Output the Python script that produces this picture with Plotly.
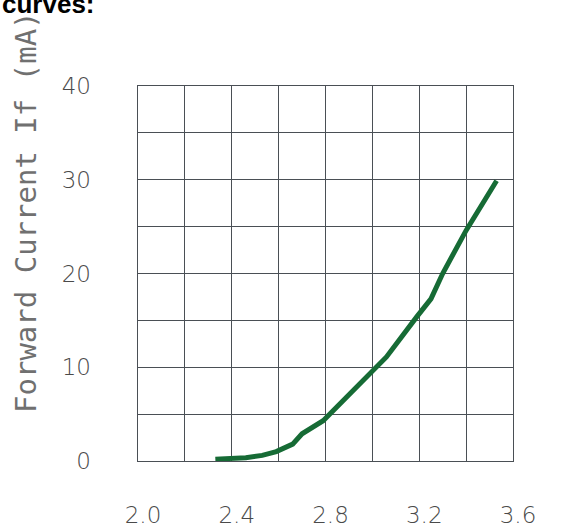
import plotly.graph_objects as go

# Forward voltage (V) vs forward current (mA)
vf = [2.33, 2.40, 2.46, 2.53, 2.59, 2.66, 2.70, 2.79, 2.89, 3.00, 3.06, 3.19, 3.25, 3.30, 3.40, 3.53]
if_ma = [0.2, 0.25, 0.35, 0.6, 1.0, 1.8, 2.9, 4.3, 6.8, 9.7, 11.1, 15.4, 17.3, 20.0, 24.6, 29.9]

x_ticks = [2.0, 2.4, 2.8, 3.2, 3.6]
x_tick_labels = ["2.0", "2.4", "2.8", "3.2", "3.6"]
y_ticks = [0, 10, 20, 30, 40]
y_tick_labels = ["0", "10", "20", "30", "40"]

y_title = "Forward Current If (mA)"
top_text = "curves:"

tick_font = dict(family="DejaVu Sans ExtraLight, DejaVu Sans", size=23, color="#4a4a4a", weight=200)

fig = go.Figure()
fig.add_trace(go.Scatter(
    x=vf, y=if_ma, mode="lines",
    line=dict(color="#166b35", width=5),
    showlegend=False, hoverinfo="skip",
))

fig.update_layout(
    width=579, height=531,
    margin=dict(l=138, r=66, t=86, b=70, autoexpand=False),
    paper_bgcolor="white", plot_bgcolor="white",
    xaxis=dict(
        range=[2.0, 3.6], dtick=0.2, tick0=2.0, automargin=False,
        showgrid=True, gridcolor="#4a4f55", gridwidth=1,
        showline=True, linecolor="#4a4f55", linewidth=1, mirror=True,
        zeroline=False, ticks="",
        showticklabels=False,
    ),
    yaxis=dict(
        range=[0, 40], dtick=5, tick0=0, automargin=False,
        showgrid=True, gridcolor="#4a4f55", gridwidth=1,
        showline=True, linecolor="#4a4f55", linewidth=1, mirror=True,
        zeroline=False, ticks="",
        showticklabels=False,
    ),
    xaxis2=dict(
        overlaying="x", range=[2.0, 3.6], tickvals=x_ticks, ticktext=x_tick_labels,
        showgrid=False, showline=False, zeroline=False, ticks="", automargin=False,
        tickfont=tick_font, side="bottom", ticklabelstandoff=38, ticklabelshift=5,
    ),
    yaxis2=dict(
        overlaying="y", range=[0, 40], tickvals=y_ticks, ticktext=y_tick_labels,
        showgrid=False, showline=False, zeroline=False, ticks="", automargin=False,
        tickfont=tick_font, side="left", ticklabelstandoff=46,
    ),
    annotations=[
        dict(text=y_title, textangle=-90, xref="paper", yref="paper",
             x=0, y=0.664, xanchor="center", yanchor="middle", xshift=-112,
             showarrow=False,
             font=dict(family="DejaVu Sans Mono", size=29, color="#707070")),
        dict(text="<b>" + top_text + "</b>", xref="paper", yref="paper",
             x=-138 / 375, y=(461 - 21) / 375, xanchor="left", yanchor="bottom",
             showarrow=False,
             font=dict(family="Liberation Sans, Arial", size=26, color="black")),
    ],
)
# invisible trace to activate the secondary axes carrying the tick labels
fig.add_trace(go.Scatter(x=[2.0], y=[0], xaxis="x2", yaxis="y2", mode="markers",
                         marker=dict(opacity=0), showlegend=False, hoverinfo="skip"))

fig.write_html("out.html", config={"displayModeBar": False},
               post_script="document.body.style.margin='0';")
